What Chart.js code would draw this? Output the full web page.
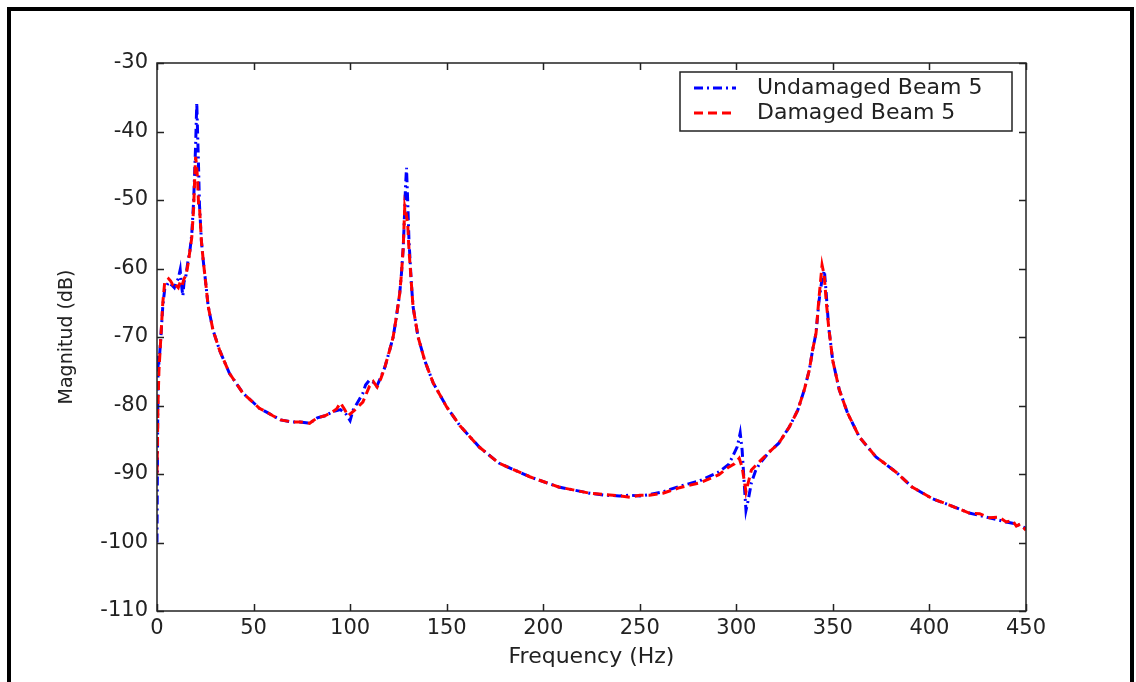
<!DOCTYPE html>
<html>
<head>
<meta charset="utf-8">
<title>FRF Beam 5</title>
<script src="https://cdn.jsdelivr.net/npm/chart.js@4.4.0/dist/chart.umd.min.js"></script>
<style>
    html, body { margin: 0; padding: 0; background: #fff; }
    #wrap { width: 1136px; height: 682px; }
</style>
</head>
<body>
<div id="wrap"><canvas id="frfChart" width="1136" height="682"></canvas></div>
<script>
// series names, as shown in the legend
const seriesNames = ['Undamaged Beam 5', 'Damaged Beam 5'];

// undamaged beam: frequency (Hz) and magnitude (dB)
const freqUndamaged = [
    0, 0.3, 0.6, 1, 2, 3, 4, 5, 6, 7,
    8, 9, 10, 11, 12, 12.5, 13.4, 14, 15, 16,
    17, 18, 19, 20, 20.6, 21, 21.5, 22, 23, 24,
    25, 26.5, 29, 32.5, 37.5, 44.5, 50, 53, 57, 60,
    64, 70, 74, 79, 81, 83, 87, 91, 95, 98,
    100, 101.5, 104, 106.6, 108, 110, 112, 113.8, 116, 118,
    120.5, 122.3, 124, 125.7, 126.6, 127.5, 128.2, 128.7, 129.2, 129.8,
    130.5, 131.7, 132.6, 135.2, 138.6, 143, 150, 157, 167, 177,
    193, 208, 224, 232, 239.5, 245, 250, 255, 262, 270.6,
    281, 291, 296, 298, 300.5, 302, 303, 304, 305, 306,
    307.8, 310, 312, 317, 322, 327.5, 331.8, 335.2, 337.8, 339.5,
    341.3, 342.7, 344.4, 345.6, 346.5, 347.8, 349.9, 353.3, 357.6, 363.7,
    372.3, 382.6, 391, 401.5, 410, 420.6, 431, 439.7, 445, 449,
    450
];
const magUndamaged = [
    -100, -85, -72.5, -74, -70, -65.5, -63, -62.5, -62, -62.3,
    -62.5, -62.8, -62, -61.5, -60.2, -62, -64, -62, -61, -59,
    -57.5, -55, -50, -42, -35.8, -40, -45, -50.7, -56, -59,
    -61.5, -65.5, -69, -72, -75.3, -78.2, -79.6, -80.4, -81, -81.5,
    -82.1, -82.4, -82.4, -82.6, -82.2, -81.8, -81.5, -80.9, -80.6, -81.3,
    -82.2, -80.7, -79.5, -78.2, -77, -76.3, -76.6, -77.2, -75.8, -74.4,
    -71.9, -70, -67, -63.6, -60.7, -57, -52, -48, -45.3, -50,
    -56, -62.1, -65.6, -70, -73.4, -76.7, -80.2, -83, -86.1, -88.4,
    -90.4, -91.9, -92.8, -93.1, -93.2, -93.1, -93.2, -93, -92.6, -91.8,
    -91, -89.7, -88.6, -87.5, -86, -84, -86.5, -91, -95.3, -94,
    -91.3, -89.5, -88.5, -86.8, -85.5, -83.1, -80.7, -77.7, -74.8, -71.9,
    -69.4, -65, -61.5, -60.3, -63.5, -68.5, -73.4, -77.7, -81.1, -84.6,
    -87.5, -89.7, -91.9, -93.6, -94.5, -95.7, -96.4, -97, -97.3, -97.8,
    -98
];

// damaged beam
const freqDamaged = [
    0, 0.5, 1, 2, 3, 4, 5, 6, 7, 8,
    9, 10, 11, 12, 13, 14, 15, 16, 17, 18,
    19, 19.5, 20, 20.5, 21, 21.5, 22, 23, 24, 25,
    26.5, 29, 32.5, 37.5, 44.5, 50, 53, 57, 60, 64,
    70, 74, 79, 81, 83, 87, 91, 93, 95, 97,
    99, 101, 103, 106.6, 110, 112, 114, 116, 118, 120.5,
    122.3, 124, 125.7, 126.6, 127.5, 128.3, 129, 129.8, 130.5, 131.7,
    132.6, 135.2, 138.6, 143, 150, 157, 167, 177, 193, 208,
    224, 232, 239.5, 245, 250, 255, 262, 270.6, 281, 291,
    296, 299, 301.5, 303, 305, 307.8, 312, 317, 322, 327.5,
    331.8, 335.2, 337.8, 339.5, 341.3, 342.7, 344.4, 345.5, 346.5, 347.8,
    349.9, 353.3, 357.6, 363.7, 372.3, 382.6, 391, 401.5, 410, 420.6,
    426, 431, 436, 439.7, 443, 445, 447, 449, 450
];
const magDamaged = [
    -90, -80, -75, -70, -65, -62, -61.8, -61.5, -61.8, -62.3,
    -62, -62.5, -62.8, -62, -62.5, -61.5, -61, -59.5, -57.5, -55.5,
    -51, -47, -43.7, -45, -47, -50.5, -51, -56, -59, -61.5,
    -65.5, -69, -72, -75.3, -78.2, -79.6, -80.4, -81, -81.5, -82.1,
    -82.4, -82.4, -82.6, -82.2, -81.8, -81.5, -80.9, -80.5, -79.6, -80.5,
    -81.5, -81, -80.5, -79.5, -77.2, -76.5, -77.3, -76, -74.4, -71.9,
    -70, -67, -63.6, -60.7, -57, -51, -52, -53.4, -57.3, -62.1,
    -65.6, -70, -73.4, -76.7, -80.2, -83, -86.1, -88.4, -90.4, -91.9,
    -92.8, -93, -93.2, -93.4, -93.1, -93.1, -92.8, -92, -91.3, -90.1,
    -89, -88.5, -87.7, -89, -92.6, -89.4, -88.2, -86.8, -85.5, -83.1,
    -80.7, -77.7, -74.8, -71.9, -69.4, -64.6, -59.5, -61, -64.6, -68.5,
    -73.4, -77.7, -81.1, -84.6, -87.5, -89.7, -91.9, -93.6, -94.5, -95.7,
    -95.8, -96.4, -96.3, -97, -96.8, -97.6, -97.3, -97.9, -98.2
];

// axis ticks
const xTicks = [0, 50, 100, 150, 200, 250, 300, 350, 400, 450];
const yTicks = [-110, -100, -90, -80, -70, -60, -50, -40, -30];

const BLUE = '#0000ff';
const RED = '#ff0000';
const INK = '#222222';
const FONT = "'DejaVu Sans', sans-serif";

function toPoints(xs, ys) {
    return xs.map(function (x, i) { return { x: x, y: ys[i] }; });
}

// white page + the thick black frame round the figure
const framePlugin = {
    id: 'frame',
    beforeDraw: function (chart) {
        const ctx = chart.ctx;
        ctx.save();
        ctx.fillStyle = '#ffffff';
        ctx.fillRect(0, 0, chart.width, chart.height);
        ctx.strokeStyle = '#000000';
        ctx.lineWidth = 4;
        ctx.beginPath();
        ctx.moveTo(9, chart.height);
        ctx.lineTo(9, 9);
        ctx.lineTo(1132, 9);
        ctx.lineTo(1132, chart.height);
        ctx.stroke();
        ctx.restore();
    }
};

// matlab-style box with inward ticks on all four sides
const boxPlugin = {
    id: 'axisBox',
    afterDatasetsDraw: function (chart) {
        const ctx = chart.ctx;
        const a = chart.chartArea;
        const sx = chart.scales.x;
        const sy = chart.scales.y;
        const len = 7;
        ctx.save();
        ctx.strokeStyle = INK;
        ctx.lineWidth = 1.5;
        ctx.strokeRect(a.left, a.top, a.right - a.left, a.bottom - a.top);
        ctx.beginPath();
        xTicks.forEach(function (v) {
            const px = Math.round(sx.getPixelForValue(v)) + 0.5;
            ctx.moveTo(px, a.bottom);
            ctx.lineTo(px, a.bottom - len);
            ctx.moveTo(px, a.top);
            ctx.lineTo(px, a.top + len);
        });
        yTicks.forEach(function (v) {
            const py = Math.round(sy.getPixelForValue(v)) + 0.5;
            ctx.moveTo(a.left, py);
            ctx.lineTo(a.left + len, py);
            ctx.moveTo(a.right, py);
            ctx.lineTo(a.right - len, py);
        });
        ctx.stroke();
        ctx.restore();
    }
};

// legend box in the upper right of the axes
const legendPlugin = {
    id: 'boxLegend',
    afterDraw: function (chart) {
        const ctx = chart.ctx;
        const bx = 680, by = 72, bw = 332, bh = 59;
        ctx.save();
        ctx.fillStyle = '#ffffff';
        ctx.fillRect(bx, by, bw, bh);
        ctx.strokeStyle = INK;
        ctx.lineWidth = 1.5;
        ctx.strokeRect(bx, by, bw, bh);
        chart.data.datasets.forEach(function (ds, i) {
            const ly = by + 16 + i * 25;
            ctx.strokeStyle = ds.borderColor;
            ctx.lineWidth = ds.borderWidth;
            ctx.setLineDash(ds.borderDash);
            ctx.beginPath();
            ctx.moveTo(694, ly);
            ctx.lineTo(736, ly);
            ctx.stroke();
            ctx.setLineDash([]);
            ctx.fillStyle = INK;
            ctx.font = '22px ' + FONT;
            ctx.textBaseline = 'middle';
            ctx.fillText(ds.label, 757, ly);
        });
        ctx.restore();
    }
};

const ctx = document.getElementById('frfChart').getContext('2d');
const frfChart = new Chart(ctx, {
    type: 'line',
    data: {
        datasets: [{
            label: seriesNames[0],
            data: toPoints(freqUndamaged, magUndamaged),
            borderColor: BLUE,
            borderWidth: 3,
            borderDash: [9, 4, 2, 4],
            pointRadius: 0,
            tension: 0,
            order: 1
        }, {
            label: seriesNames[1],
            data: toPoints(freqDamaged, magDamaged),
            borderColor: RED,
            borderWidth: 3,
            borderDash: [9, 5],
            pointRadius: 0,
            tension: 0,
            order: 0
        }]
    },
    options: {
        responsive: false,
        animation: false,
        events: [],
        layout: {
            padding: { left: 0, top: 63, right: 110, bottom: 0 }
        },
        plugins: {
            legend: { display: false },
            tooltip: { enabled: false }
        },
        scales: {
            x: {
                type: 'linear',
                min: 0,
                max: 450,
                grid: { display: false, drawTicks: false },
                border: { display: false },
                afterBuildTicks: function (s) {
                    s.ticks = xTicks.map(function (v) { return { value: v }; });
                },
                afterFit: function (s) { s.height = 71; },
                ticks: {
                    color: INK,
                    font: { family: FONT, size: 21 },
                    padding: 5,
                    maxRotation: 0,
                    autoSkip: false
                },
                title: {
                    display: true,
                    text: 'Frequency (Hz)',
                    color: INK,
                    font: { family: FONT, size: 22 },
                    padding: { top: 0, bottom: 12 }
                }
            },
            y: {
                type: 'linear',
                min: -110,
                max: -30,
                grid: { display: false, drawTicks: false },
                border: { display: false },
                afterBuildTicks: function (s) {
                    s.ticks = yTicks.map(function (v) { return { value: v }; });
                },
                afterFit: function (s) { s.width = 157; },
                ticks: {
                    color: INK,
                    font: { family: FONT, size: 21 },
                    padding: 9,
                    autoSkip: false
                },
                title: {
                    display: true,
                    text: 'Magnitud (dB)',
                    color: INK,
                    font: { family: FONT, size: 19 },
                    padding: { top: 56, bottom: 0 }
                }
            }
        }
    },
    plugins: [framePlugin, boxPlugin, legendPlugin]
});
</script>
</body>
</html>
